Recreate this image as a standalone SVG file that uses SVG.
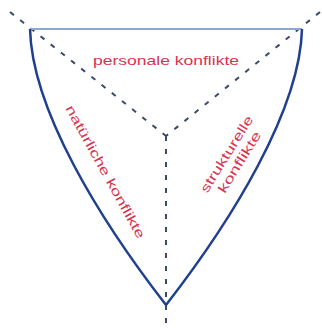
<svg xmlns="http://www.w3.org/2000/svg" width="322" height="332" viewBox="0 0 322 332">
<style>
.side{fill:none;stroke:#1f3f8f;stroke-width:2.5;stroke-linejoin:round}
.top{fill:none;stroke:#8fa8d0;stroke-width:2}
.dash{fill:none;stroke:#3c4a68;stroke-width:2;stroke-dasharray:5 8}
.lbl{font-family:"Liberation Sans",Arial,sans-serif;font-size:13px;fill:#d8344f;text-anchor:middle}
</style>
<rect width="322" height="332" fill="#ffffff"/>
<g id="connectors">
<path class="dash" d="M10,12 L166,136"/>
<path class="dash" d="M320,12 L166,136"/>
<path class="dash" d="M166,136 L166,328"/>
<path class="top" d="M30,29 L302,29"/>
<path class="side" d="M30,29 C32,110 100,220 166,305"/>
<path class="side" d="M302,29 C300,110 232,220 166,305"/>
</g>
<g id="personal">
<text class="lbl" x="166" y="65" textLength="146" lengthAdjust="spacingAndGlyphs">personale konflikte</text>
</g>
<g id="natural">
<text class="lbl" transform="translate(105,172) rotate(61)" x="0" y="4" textLength="150" lengthAdjust="spacingAndGlyphs">natürliche konflikte</text>
</g>
<g id="structural">
<g transform="translate(233,158) rotate(-58)">
<text class="lbl" x="0" y="-3" textLength="88" lengthAdjust="spacingAndGlyphs">strukturelle</text>
<text class="lbl" x="0" y="12" textLength="70" lengthAdjust="spacingAndGlyphs">konflikte</text>
</g>
</g>
</svg>
